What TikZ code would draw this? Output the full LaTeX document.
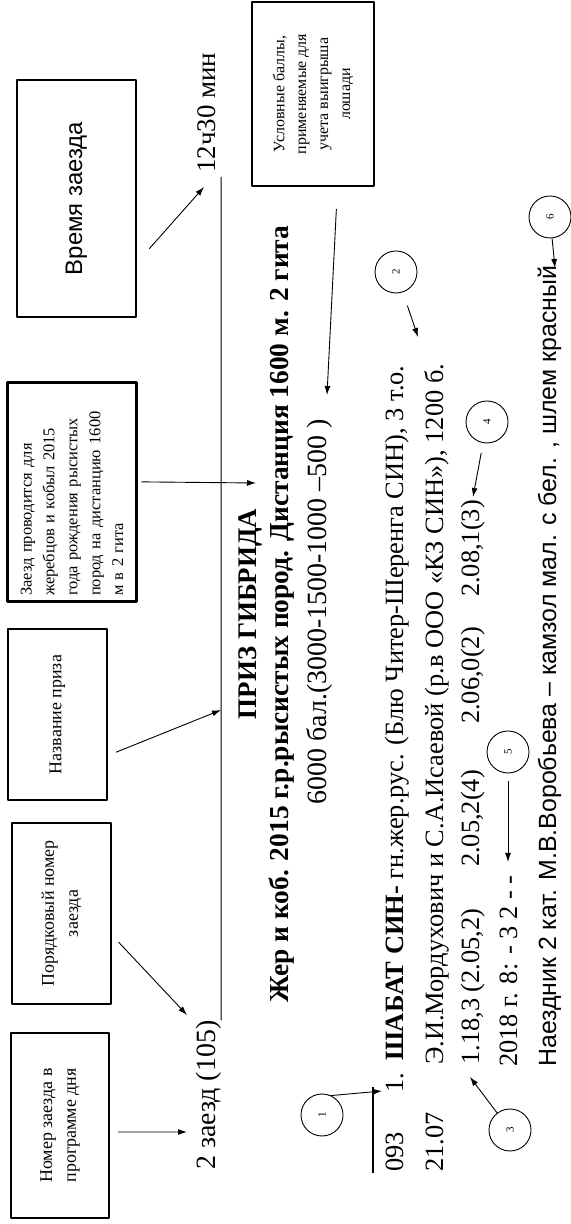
\documentclass[tikz,border=0pt]{standalone}
\usepackage{fontspec}
\setmainfont{Liberation Serif}
\newfontfamily\arialfont{Liberation Sans}
\usetikzlibrary{arrows.meta, calc, positioning}

\begin{document}
\begin{tikzpicture}[x=1bp, y=1bp, >={Latex[length=9bp,width=6bp]}, line join=bevel,
    box/.style={draw, line width=1.5bp, inner sep=0pt, align=center, font=\fontsize{18}{24}\selectfont},
    tbox/.style={box, line width=3bp},
    txt/.style={inner sep=0pt, anchor=base west, font=\fontsize{26.5}{30}\selectfont},
    ttl/.style={inner sep=0pt, anchor=base, font=\bfseries\fontsize{27}{30}\selectfont},
    num/.style={draw, circle, line width=0.9bp, minimum size=42bp, inner sep=0pt, font=\fontsize{11}{11}\selectfont},
    arr/.style={->, line width=0.9bp}]
  \useasboundingbox (0,0) rectangle (571,1224);
  \begin{scope}[rotate=90, transform shape]
     %
     \node[box, minimum width=185bp, minimum height=98bp] (b1) at (98.5,-60) {Номер заезда в\\программе дня};
     \node[box, minimum width=181bp, minimum height=99bp] (b2) at (310.5,-61.5) {Порядковый номер\\заезда};
     \node[box, minimum width=171bp, minimum height=99bp] (b3) at (509.5,-57.5) {Название приза};
     \node[tbox, minimum width=219bp, minimum height=128bp, text width=207bp, align=left, font=\fontsize{16.5}{23}\selectfont] (b4) at (731.5,-72) {Заезд проводится для\\жеребцов и кобыл 2015\\года рождения рысистых\\пород на дистанцию 1600\\м в 2 гита};
     \node[box, minimum width=237bp, minimum height=119bp, font=\arialfont\fontsize{24}{28}\selectfont] (b5) at (1025.5,-76.5) {Время заезда};
     \node[box, line width=2.2bp, minimum width=184bp, minimum height=122bp, font=\fontsize{16}{22}\selectfont] (b6) at (1130,-313) {Условные баллы,\\применяемые для\\учета выигрыша\\лошади};
     %
     \node[txt, font=\fontsize{28}{30}\selectfont] (zaezd) at (54,-215) {2 заезд (105)};
     \node[txt, font=\fontsize{27}{30}\selectfont] (time) at (1051,-215) {12ч30 мин};
     \node[ttl] (prize) at (610,-256) {ПРИЗ ГИБРИДА};
     \node[ttl, font=\bfseries\fontsize{27.5}{30}\selectfont] (cond) at (610,-288) {Жер и коб. 2015 г.р.рысистых пород. Дистанция 1600 м. 2 гита};
     \node[txt, anchor=base, font=\fontsize{28}{30}\selectfont] (pts) at (612,-326) {6000 бал.(3000-1500-1000 –500 )};
     %
     \node[txt] (prog) at (52,-403) {093};
     \node[txt] (horse) at (131,-403) {1.\hspace{12bp}\textbf{ШАБАТ СИН-} гн.жер.рус. (Блю Читер-Шеренга СИН), 3 т.о.};
     \node[txt] (date) at (52,-443) {21.07};
     \node[txt] (owner) at (159,-443) {Э.И.Мордухович и С.А.Исаевой (р.в ООО «КЗ СИН»), 1200 б.};
     \node[txt] (rec) at (159,-479) {1.18,3 (2.05,2)};
     \node[txt, anchor=base east] (r1) at (454,-479) {2.05,2(4)};
     \node[txt, anchor=base east] (r2) at (597,-479) {2.06,0(2)};
     \node[txt, anchor=base east] (r3) at (724,-479) {2.08,1(3)};
     \node[txt] (year) at (157,-517) {2018 г. 8: - 3 2 - -};
     \node[txt, font=\arialfont\fontsize{25}{30}\selectfont] (rider) at (157,-556) {Наездник 2 кат. М.В.Воробьева – камзол мал. с бел. , шлем красный};
     %
     \node[num] (n1) at (109,-322) {1};
     \node[num] (n2) at (952,-396) {2};
     \node[num] (n3) at (94,-510) {3};
     \node[num] (n4) at (802,-487) {4};
     \node[num] (n5) at (472,-508) {5};
     \node[num] (n6) at (1007,-550) {6};
     %
     \coordinate (t1) at (92,-187);
     \coordinate (t2) at (209,-187);
     \coordinate (t3) at (514,-221);
     \coordinate (t4) at (741,-256);
     \coordinate (t5) at (1037,-204);
     \coordinate (t6) at (829,-327);
     \coordinate (m1) at (133,-382);
     \coordinate (m2) at (887,-418);
     \coordinate (m3) at (147,-470);
     \coordinate (m4) at (727,-473);
     \coordinate (m5) at (362,-508);
     \coordinate (m6) at (956,-555);
     \coordinate (rend) at (1047,-221);
     \coordinate (ol) at (137,-373);
     \coordinate (ol2) at (51,-373);
     %
     \draw[line width=1bp] (zaezd.south east) -- (rend);
     \draw[line width=2bp] (ol2) -- (ol);
     %
     \path[arr, shorten <=8bp] ($(b1.south west)!.465!(b1.south east)$) edge[] (t1);
     \path[arr, shorten <=10bp] ($(b2.south west)!.383!(b2.south east)$) edge[] (t2);
     \path[arr, shorten <=9bp] ($(b3.south west)!.262!(b3.south east)$) edge[] (t3);
     \path[arr, shorten <=4bp] ($(b4.south west)!.548!(b4.south east)$) edge[] (t4);
     \path[arr, shorten <=19bp] ($(b5.south west)!.23!(b5.south east)$) edge[] (t5);
     \path[arr, shorten <=22bp] ($(b6.north west)!.697!(b6.south west)$) edge[] (t6);
     %
     \path[arr] (n1.-25) edge[] (m1);
     \path[arr, shorten <=14bp] (n2) edge[] (m2);
     \path[arr] (n3) edge[] (m3);
     \path[arr, shorten <=10bp] (n4) edge[] (m4);
     \path[arr, shorten <=8bp] (n5) edge[] (m5);
     \path[arr] (n6) edge[] (m6);
  \end{scope}
\end{tikzpicture}
\end{document}
